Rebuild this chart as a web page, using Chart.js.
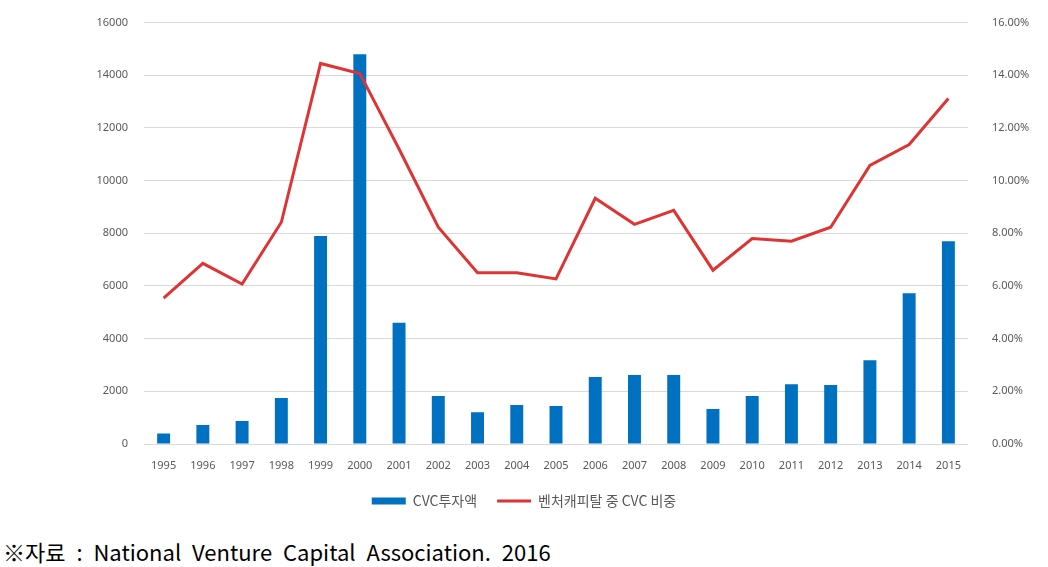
<!DOCTYPE html>
<html>
<head>
<meta charset="utf-8">
<script src="https://cdn.jsdelivr.net/npm/chart.js@4"></script>
<style>
  body { margin: 0; background: #fff; }
  #wrap { position: absolute; left: 0; top: 0; width: 1048px; height: 528px; }
  #note { position: absolute; left: 3px; top: 535px; font-family: "Noto Sans CJK KR", sans-serif; font-size: 22px; color: #000; word-spacing: 6px; white-space: nowrap; }
</style>
</head>
<body>
<div id="wrap"><canvas id="chart"></canvas></div>
<div id="note">※자료 : National Venture Capital Association. 2016</div>
<script>
const years = ['1995','1996','1997','1998','1999','2000','2001','2002','2003','2004','2005',
  '2006','2007','2008','2009','2010','2011','2012','2013','2014','2015'];

// CVC investment amount
const cvcAmount = [400, 720, 870, 1750, 7900, 14800, 4600, 1820, 1210, 1480, 1440,
  2540, 2620, 2620, 1330, 1820, 2270, 2240, 3180, 5720, 7700];

// CVC share of venture capital (%)
const cvcShare = [5.54, 6.86, 6.07, 8.42, 14.45, 14.07, 11.2, 8.23, 6.5, 6.5, 6.27,
  9.33, 8.34, 8.87, 6.6, 7.8, 7.7, 8.23, 10.58, 11.37, 13.12];

const seriesNames = ['CVC투자액', '벤처캐피탈 중 CVC 비중'];

const tickFont = { family: 'Noto Sans', size: 11 };

const data = {
  labels: years,
  datasets: [{
    type: 'line',
    label: seriesNames[1],
    data: cvcShare,
    yAxisID: 'y1',
    borderColor: 'rgb(222, 52, 52)',
    backgroundColor: 'rgb(222, 52, 52)',
    borderWidth: 3,
    pointRadius: 0,
    tension: 0,
    order: 1
  }, {
    type: 'bar',
    label: seriesNames[0],
    data: cvcAmount,
    yAxisID: 'y',
    backgroundColor: 'rgb(0, 112, 192)',
    barPercentage: 0.6,
    categoryPercentage: 0.55,
    order: 2
  }]
};

const config = {
  data: data,
  options: {
    responsive: true,
    maintainAspectRatio: false,
    animation: false,
    layout: { padding: { top: 21, left: 0, right: 0, bottom: 10 } },
    scales: {
      x: {
        grid: { display: false },
        border: { display: false },
        ticks: { font: tickFont, color: '#595959', padding: 7, maxRotation: 0 },
        afterFit: (s) => { s.height = 30; }
      },
      y: {
        position: 'left',
        min: 0, max: 16000,
        ticks: { stepSize: 2000, font: tickFont, color: '#595959', padding: 16,
          callback: (v) => String(v) },
        grid: { color: '#d9d9d9', drawTicks: false },
        border: { display: false },
        afterFit: (s) => { s.width = 144; }
      },
      y1: {
        position: 'right',
        min: 0, max: 16,
        ticks: { stepSize: 2, font: tickFont, color: '#595959', padding: 16,
          callback: (v) => v.toFixed(2) + '%' },
        grid: { display: false },
        border: { display: false },
        afterFit: (s) => { s.width = 80; }
      }
    },
    plugins: {
      legend: {
        position: 'bottom',
        reverse: true,
        labels: {
          font: { family: 'Noto Sans CJK KR', size: 14 },
          color: '#595959',
          usePointStyle: true,
          pointStyleWidth: 34,
          boxHeight: 7,
          padding: 20,
          generateLabels: (chart) => {
            const items = Chart.defaults.plugins.legend.labels.generateLabels(chart);
            items.forEach((it) => {
              if (it.datasetIndex === 1) { it.pointStyle = 'rect'; it.lineWidth = 0; }
              else { it.pointStyle = 'line'; it.lineWidth = 3; }
            });
            return items;
          }
        }
      },
      tooltip: { enabled: false }
    }
  }
};

const cvcChart = new Chart(document.getElementById('chart'), config);
</script>
</body>
</html>
